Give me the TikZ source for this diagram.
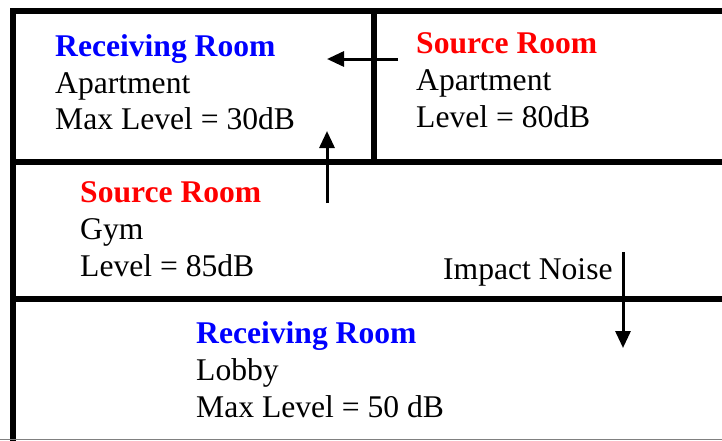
\documentclass[tikz,border=0pt]{standalone}
\usepackage{fontspec}
\setmainfont{Liberation Serif}
\usetikzlibrary{arrows.meta}
\definecolor{recblue}{RGB}{0,0,255}
\definecolor{srcred}{RGB}{255,0,0}
\begin{document}
\begin{tikzpicture}[x=1pt,y=-1pt,
  wall/.style={line width=5.5pt,line cap=rect},
  flow/.style={line width=3pt,-{Triangle[length=17pt,width=15pt]}},
  txt/.style={anchor=base west,inner sep=0pt,font=\fontsize{31.6}{37}\selectfont},
  rec/.style={txt,font=\fontsize{31.6}{37}\selectfont\bfseries,text=recblue},
  src/.style={txt,font=\fontsize{31.6}{37}\selectfont\bfseries,text=srcred}]
\useasboundingbox (0,0) rectangle (722,440);
% walls
\draw[wall] (13,442) -- (13,11) -- (724,11);
\draw[wall] (374,11) -- (374,162);
\draw[wall] (13,162) -- (724,162);
\draw[wall] (13,299) -- (724,299);
\draw[gray,line width=1pt] (0,439.5) -- (722,439.5);
% receiving room apartment
\node[rec] (r1a) at (55,56) {Receiving Room};
\node[txt] (r1b) at (55,93) {Apartment};
\node[txt] (r1c) at (55,129) {Max Level = 30dB};
% source room apartment
\node[src] (s1a) at (416,53) {Source Room};
\node[txt] (s1b) at (416,90) {Apartment};
\node[txt] (s1c) at (416,127) {Level = 80dB};
% source room gym
\node[src] (s2a) at (80,202) {Source Room};
\node[txt] (s2b) at (80,239) {Gym};
\node[txt] (s2c) at (80,276) {Level = 85dB};
% receiving room lobby
\node[rec] (r2a) at (196,343) {Receiving Room};
\node[txt] (r2b) at (196,380) {Lobby};
\node[txt] (r2c) at (196,417) {Max Level = 50 dB};
% impact noise
\node[txt] (imp) at (443,279) {Impact Noise};
% arrows
\coordinate (a1s) at (398,59);
\coordinate (a1e) at (327,59);
\coordinate (a2s) at (327,203);
\coordinate (a2e) at (327,131);
\coordinate (a3s) at (623,252);
\coordinate (a3e) at (623,348);
\draw[flow] (a1s) -- (a1e);
\draw[flow] (a2s) -- (a2e);
\draw[flow] (a3s) -- (a3e);
\end{tikzpicture}
\end{document}
